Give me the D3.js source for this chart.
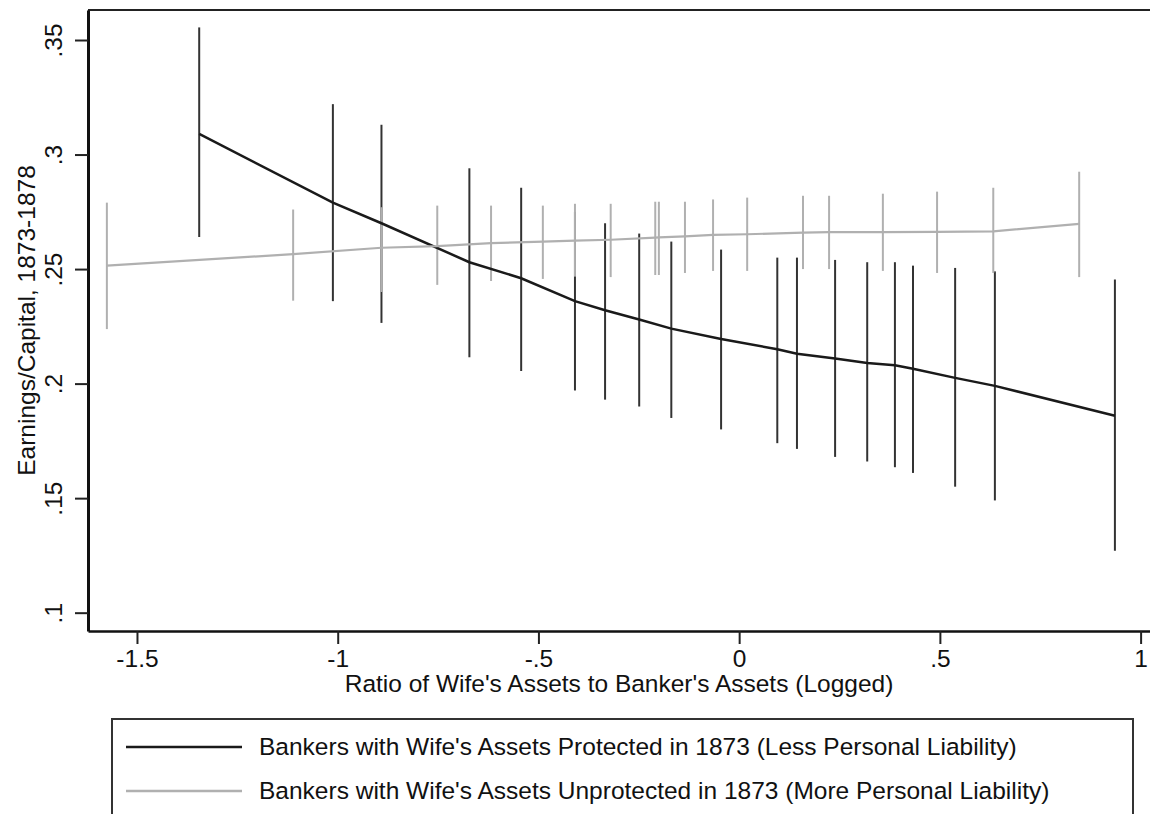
<!DOCTYPE html>
<html lang="en">
<head>
    <meta charset="UTF-8">
    <title>Earnings/Capital by Wife's Assets</title>
    <style>
        body {
            margin: 0;
            padding: 0;
            background: #fff;
        }
        svg text {
            font-family: 'Liberation Sans', Arial, sans-serif;
            font-size: 24.5px;
            fill: #111;
        }
    </style>
</head>
<body>
    <svg id="chart" width="1150" height="814"></svg>

    <script src="https://d3js.org/d3.v7.min.js"></script>
    <script>
        // Protected (black) series
        const protX  = [-1.345, -1.012, -0.891, -0.672, -0.543, -0.409, -0.334, -0.249, -0.169, -0.045, 0.095, 0.144, 0.239, 0.319, 0.388, 0.433, 0.538, 0.637, 0.936];
        const protY  = [0.309, 0.279, 0.270, 0.253, 0.246, 0.236, 0.232, 0.228, 0.224, 0.2195, 0.215, 0.213, 0.211, 0.209, 0.208, 0.2065, 0.2025, 0.199, 0.186];
        const protHi = [0.3555, 0.322, 0.313, 0.294, 0.2855, 0.275, 0.270, 0.2655, 0.262, 0.2585, 0.255, 0.255, 0.254, 0.253, 0.253, 0.2515, 0.2505, 0.249, 0.2455];
        const protLo = [0.264, 0.236, 0.2265, 0.2115, 0.2055, 0.197, 0.193, 0.190, 0.185, 0.180, 0.174, 0.1715, 0.168, 0.166, 0.1635, 0.161, 0.155, 0.149, 0.127];

        // Unprotected (gray) series
        const unprX  = [-1.575, -1.111, -0.891, -0.752, -0.618, -0.489, -0.409, -0.320, -0.209, -0.200, -0.135, -0.065, 0.020, 0.159, 0.224, 0.358, 0.493, 0.633, 0.847];
        const unprY  = [0.2515, 0.2565, 0.2593, 0.2600, 0.2613, 0.2620, 0.2624, 0.2628, 0.2637, 0.2638, 0.2643, 0.2649, 0.2652, 0.2659, 0.2661, 0.2661, 0.2662, 0.2665, 0.2697];
        const unprHi = [0.279, 0.276, 0.277, 0.2777, 0.2777, 0.2777, 0.2785, 0.2785, 0.2794, 0.2794, 0.2794, 0.2804, 0.2812, 0.282, 0.282, 0.2829, 0.2838, 0.2855, 0.2925];
        const unprLo = [0.2238, 0.2362, 0.240, 0.2431, 0.2448, 0.2457, 0.2467, 0.2465, 0.2474, 0.2474, 0.2483, 0.2492, 0.2492, 0.250, 0.250, 0.2492, 0.2483, 0.2483, 0.2465];

        const xTicks = [-1.5, -1, -0.5, 0, 0.5, 1];
        const xTickLabels = ["-1.5", "-1", "-.5", "0", ".5", "1"];
        const yTicks = [0.1, 0.15, 0.2, 0.25, 0.3, 0.35];
        const yTickLabels = [".1", ".15", ".2", ".25", ".3", ".35"];

        const legendLabels = [
            "Bankers with Wife's Assets Protected in 1873 (Less Personal Liability)",
            "Bankers with Wife's Assets Unprotected in 1873 (More Personal Liability)"
        ];

        const BLACK = "#1a1a1a";
        const GRAY = "#b0b0b0";

        const plotL = 88, plotR = 1150, plotT = 10, plotB = 631;

        const svg = d3.select("#chart");

        const x = d3.scaleLinear().domain([-1.622, 1.0234]).range([plotL, plotR]);
        const y = d3.scaleLinear().domain([0.0920, 0.3631]).range([plotB, plotT]);

        // frame top line
        svg.append("line")
            .attr("x1", plotL).attr("x2", plotR)
            .attr("y1", plotT).attr("y2", plotT)
            .attr("stroke", "#222")
            .attr("stroke-width", 2);

        const prot = protX.map((v, i) => ({ x: v, y: protY[i], lo: protLo[i], hi: protHi[i] }));
        const unpr = unprX.map((v, i) => ({ x: v, y: unprY[i], lo: unprLo[i], hi: unprHi[i] }));

        function spikes(data, color) {
            svg.append("g").selectAll("line")
                .data(data)
                .enter()
                .append("line")
                .attr("x1", d => x(d.x)).attr("x2", d => x(d.x))
                .attr("y1", d => y(d.lo)).attr("y2", d => y(d.hi))
                .attr("stroke", color)
                .attr("stroke-width", 2);
        }

        spikes(prot, "#333");
        spikes(unpr, GRAY);

        const line = d3.line().x(d => x(d.x)).y(d => y(d.y));

        svg.append("path")
            .datum(prot)
            .attr("d", line)
            .attr("fill", "none")
            .attr("stroke", BLACK)
            .attr("stroke-width", 2.5);

        svg.append("path")
            .datum(unpr)
            .attr("d", line)
            .attr("fill", "none")
            .attr("stroke", GRAY)
            .attr("stroke-width", 2.2);

        // axes
        const yAxis = svg.append("g")
            .attr("transform", `translate(${plotL},0)`)
            .call(d3.axisLeft(y)
                .tickValues(yTicks)
                .tickFormat((d, i) => yTickLabels[i])
                .tickSize(13)
                .tickSizeOuter(0));

        yAxis.select(".domain").attr("stroke", "#111").attr("stroke-width", 3);
        yAxis.selectAll(".tick line").attr("stroke", "#222").attr("stroke-width", 2);
        yAxis.selectAll(".tick text")
            .attr("transform", "rotate(-90)")
            .attr("x", 0)
            .attr("y", -26)
            .attr("dy", 0)
            .attr("text-anchor", "middle");

        const xAxis = svg.append("g")
            .attr("transform", `translate(0,${plotB})`)
            .call(d3.axisBottom(x)
                .tickValues(xTicks)
                .tickFormat((d, i) => xTickLabels[i])
                .tickSize(13)
                .tickSizeOuter(0));

        xAxis.select(".domain").attr("stroke", "#111").attr("stroke-width", 2.5);
        xAxis.selectAll(".tick line").attr("stroke", "#222").attr("stroke-width", 2);
        xAxis.selectAll(".tick text")
            .attr("y", 36)
            .attr("dy", 0);

        // let the css font win over d3's axis defaults
        svg.selectAll("g").attr("font-size", null).attr("font-family", null);
        svg.selectAll(".tick text").attr("fill", "#111");

        // axis titles
        svg.append("text")
            .attr("x", (plotL + plotR) / 2)
            .attr("y", 692)
            .attr("text-anchor", "middle")
            .text("Ratio of Wife's Assets to Banker's Assets (Logged)");

        svg.append("text")
            .attr("transform", `translate(35,${(plotT + plotB) / 2}) rotate(-90)`)
            .attr("text-anchor", "middle")
            .text("Earnings/Capital, 1873-1878");

        // legend
        svg.append("rect")
            .attr("x", 112).attr("y", 719)
            .attr("width", 1021).attr("height", 200)
            .attr("fill", "none")
            .attr("stroke", "#333")
            .attr("stroke-width", 2);

        const legendColors = [BLACK, GRAY];
        const legendY = [747, 791];

        legendLabels.forEach((lab, i) => {
            svg.append("line")
                .attr("x1", 126).attr("x2", 242)
                .attr("y1", legendY[i]).attr("y2", legendY[i])
                .attr("stroke", legendColors[i])
                .attr("stroke-width", 2.5);
            svg.append("text")
                .attr("x", 259)
                .attr("y", legendY[i] + 8)
                .text(lab);
        });
    </script>
</body>
</html>
